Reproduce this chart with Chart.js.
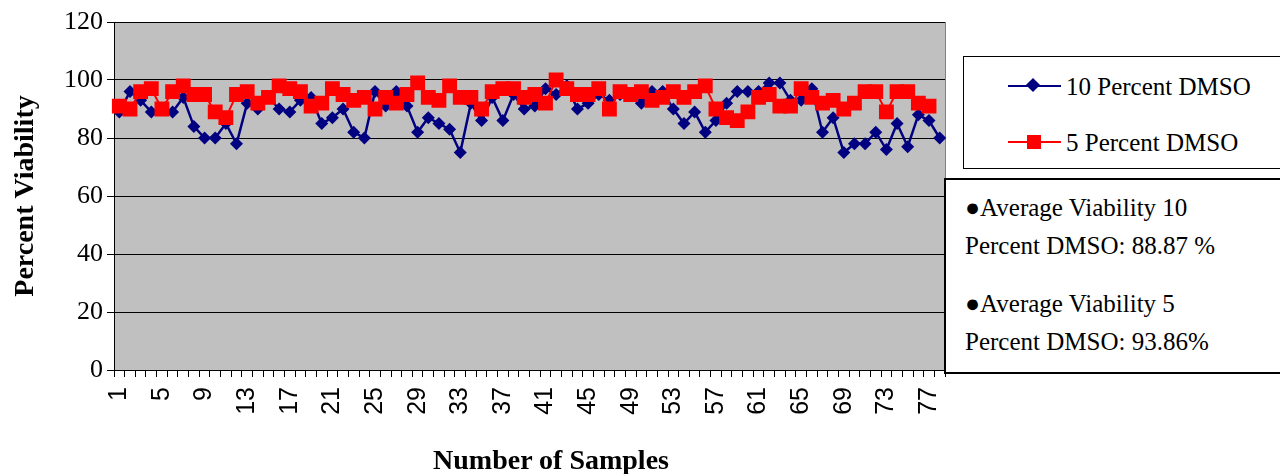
<!DOCTYPE html>
<html>
<head>
<meta charset="utf-8">
<script src="https://cdn.jsdelivr.net/npm/chart.js@4.4.1/dist/chart.umd.min.js"></script>
<style>
body { margin: 0; background: #fff; }
#wrap { position: relative; width: 1280px; height: 474px; overflow: hidden; }
#chart { position: absolute; left: 0; top: 0; }
.box { position: absolute; background: #fff; border: 1.5px solid #000; font-family: "Liberation Serif", "Times New Roman", serif; color: #000; font-size: 25px; }
.txt { position: absolute; white-space: nowrap; line-height: 1; }
.ln { position: absolute; height: 2px; }
.mk { position: absolute; }
#xtitle { position: absolute; left: 551px; top: 446px; transform: translateX(-50%); font: bold 28px "Liberation Serif", "Times New Roman", serif; color: #000; white-space: nowrap; line-height: 1; }
</style>
</head>
<body>
<div id="wrap">
  <canvas id="chart" width="1280" height="474"></canvas>
  <div id="xtitle">Number of Samples</div>
  <div class="box" style="left:963px; top:56px; width:340px; height:111px;">
    <div class="ln" style="left:44px; top:28px; width:53px; background:#000080;"></div>
    <div class="mk" style="left:64px; top:23px; width:10px; height:10px; background:#000080; transform:rotate(45deg);"></div>
    <div class="txt" style="left:102px; top:17px;">10 Percent DMSO</div>
    <div class="ln" style="left:44px; top:84px; width:53px; background:#ff0000;"></div>
    <div class="mk" style="left:63px; top:78px; width:14px; height:14px; background:#ff0000;"></div>
    <div class="txt" style="left:102px; top:73px;">5 Percent DMSO</div>
  </div>
  <div class="box" style="left:944px; top:178px; width:350px; height:192px; border-width:2px;">
    <div class="txt" style="left:19px; top:15px;">●Average Viability 10</div>
    <div class="txt" style="left:19px; top:53px;">Percent DMSO: 88.87 %</div>
    <div class="txt" style="left:19px; top:111px;">●Average Viability 5</div>
    <div class="txt" style="left:19px; top:149px;">Percent DMSO: 93.86%</div>
  </div>
</div>
<script>
// sample numbers 1..78
var samples = [];
for (var i = 1; i <= 78; i++) {
    samples.push(String(i));
}

var tenPercent = [
    89, 96, 93, 89, 90, 89, 94, 84, 80, 80,
    85, 78, 92, 90, 94, 90, 89, 93, 94, 85,
    87, 90, 82, 80, 96, 91, 96, 91, 82, 87,
    85, 83, 75, 92, 86, 94, 86, 95, 90, 91,
    97, 95, 98, 90, 92, 95, 93, 95, 95, 92,
    96, 96, 90, 85, 89, 82, 86, 92, 96, 96,
    96, 99, 99, 93, 93, 97, 82, 87, 75, 78,
    78, 82, 76, 85, 77, 88, 86, 80
];

var fivePercent = [
    91, 90, 96, 97, 90, 96, 98, 95, 95, 89,
    87, 95, 96, 92, 94, 98, 97, 96, 91, 92,
    97, 95, 93, 94, 90, 94, 92, 95, 99, 94,
    93, 98, 94, 94, 90, 96, 97, 97, 94, 95,
    92, 100, 97, 95, 95, 97, 90, 96, 95, 96,
    93, 94, 96, 94, 96, 98, 90, 87, 86, 89,
    94, 95, 91, 91, 97, 94, 92, 93, 90, 92,
    96, 96, 89, 96, 96, 92, 91, null
];

var yTicks = [0, 20, 40, 60, 80, 100, 120];

var plotBackground = {
    id: 'plotBackground',
    beforeDraw: function(chart) {
        var a = chart.chartArea;
        var ctx = chart.ctx;
        ctx.save();
        ctx.fillStyle = '#c0c0c0';
        ctx.fillRect(a.left, a.top, a.right - a.left, a.bottom - a.top);
        ctx.strokeStyle = '#808080';
        ctx.lineWidth = 1;
        ctx.beginPath();
        ctx.moveTo(a.right + 0.5, a.top);
        ctx.lineTo(a.right + 0.5, a.bottom);
        ctx.stroke();
        ctx.restore();
    }
};

function drawViabilityChart() {
    var ctx = document.getElementById('chart').getContext('2d');
    new Chart(ctx, {
        type: 'line',
        data: {
            labels: samples,
            datasets: [
                {
                    label: '10 Percent DMSO',
                    data: tenPercent,
                    borderColor: '#000080',
                    backgroundColor: '#000080',
                    borderWidth: 2.5,
                    pointStyle: 'rectRot',
                    pointRadius: 6.5,
                    pointBorderWidth: 0,
                    tension: 0,
                    order: 2
                },
                {
                    label: '5 Percent DMSO',
                    data: fivePercent,
                    borderColor: '#ff0000',
                    backgroundColor: '#ff0000',
                    borderWidth: 2,
                    pointStyle: 'rect',
                    pointRadius: 10.5,
                    pointBorderWidth: 0,
                    tension: 0,
                    order: 1
                }
            ]
        },
        options: {
            responsive: false,
            animation: false,
            devicePixelRatio: 1,
            layout: {padding: {left: 0, top: 22, right: 335, bottom: 0}},
            plugins: {
                legend: {display: false},
                tooltip: {enabled: false}
            },
            scales: {
                x: {
                    offset: true,
                    grid: {
                        offset: true,
                        drawOnChartArea: false,
                        drawTicks: true,
                        tickLength: 7,
                        color: '#000'
                    },
                    border: {color: '#000', width: 1},
                    ticks: {
                        autoSkip: false,
                        minRotation: 90,
                        maxRotation: 90,
                        padding: 10,
                        color: '#000',
                        font: {family: '"Liberation Sans", Arial, sans-serif', size: 25},
                        callback: function(value, index) {
                            return index % 4 === 0 ? samples[index] : '';
                        }
                    },
                    afterFit: function(scale) { scale.height = 104; }
                },
                y: {
                    min: 0,
                    max: 120,
                    grid: {
                        color: '#000',
                        lineWidth: 1,
                        drawTicks: true,
                        tickLength: 7
                    },
                    border: {color: '#000', width: 1},
                    afterBuildTicks: function(scale) {
                        scale.ticks = yTicks.map(function(v) { return {value: v}; });
                    },
                    ticks: {
                        padding: 4,
                        color: '#000',
                        font: {family: '"Liberation Serif", "Times New Roman", serif', size: 26}
                    },
                    title: {
                        display: true,
                        text: 'Percent Viability',
                        color: '#000',
                        font: {family: '"Liberation Serif", "Times New Roman", serif', size: 28, weight: 'bold'},
                        padding: {top: 9, bottom: 0}
                    },
                    afterFit: function(scale) { scale.width = 114; }
                }
            }
        },
        plugins: [plotBackground]
    });
}

drawViabilityChart();
</script>
</body>
</html>
